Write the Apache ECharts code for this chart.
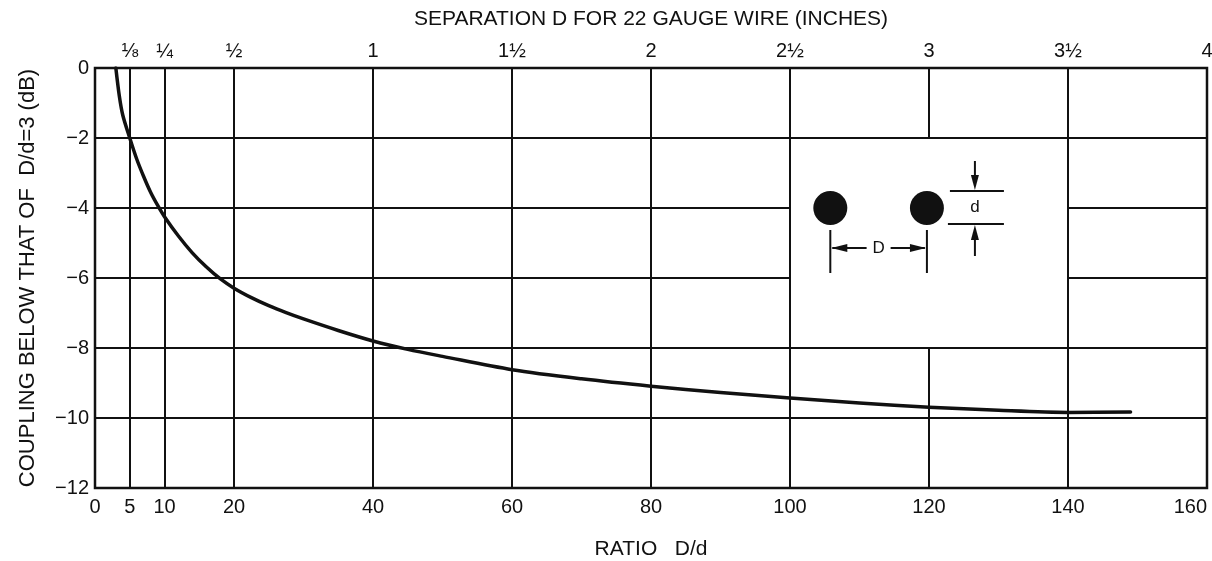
<!DOCTYPE html>
<html>
<head>
<meta charset="utf-8">
<script src="https://cdn.jsdelivr.net/npm/echarts@6/dist/echarts.min.js"></script>
<style>
  html, body { margin: 0; padding: 0; background: #fff; }
  #chart { width: 1212px; height: 561px; }
</style>
</head>
<body>
<div id="chart"></div>
<script>
// Coupling relative to D/d = 3, versus spacing ratio D/d
const ratio = [3, 3.5, 4, 5, 6, 7, 8, 9, 10, 12, 14, 16, 18, 20, 22.5, 25, 27.5, 30, 35, 40, 45, 50, 60, 70, 80, 90, 100, 110, 120, 130, 140, 149];
const couplingDb = [0, -0.8, -1.35, -2.0, -2.6, -3.1, -3.55, -3.92, -4.25, -4.8, -5.28, -5.68, -6.02, -6.29, -6.56, -6.79, -6.99, -7.17, -7.5, -7.8, -8.04, -8.24, -8.62, -8.88, -9.09, -9.27, -9.43, -9.57, -9.69, -9.78, -9.84, -9.83];

// Bottom axis (ratio) tick positions
const ratioTicks = [0, 5, 10, 20, 40, 60, 80, 100, 120, 140, 160];
// Top axis: separation in inches for 22 gauge wire at the same positions
const inchTickValues = [5, 10, 20, 40, 60, 80, 100, 120, 140, 160];
const inchTickLabels = ['⅛', '¼', '½', '1', '1½', '2', '2½', '3', '3½', '4'];
// Horizontal grid levels (dB)
const dbTicks = [-2, -4, -6, -8, -10];

const FONT = '"Liberation Sans", Arial, Helvetica, sans-serif';
const INK = '#111';

// Inset frame: grid lines inside this box are left out to make room for the sketch
const inset = { x0: 100, x1: 140, y0: -8, y1: -2 };

function gridSegments() {
  const segs = [];
  ratioTicks.filter(v => v > 0 && v < 160).forEach(v => {
    if (v > inset.x0 && v < inset.x1) {
      segs.push([{ coord: [v, 0] }, { coord: [v, inset.y1] }]);
      segs.push([{ coord: [v, inset.y0] }, { coord: [v, -12] }]);
    } else {
      segs.push([{ coord: [v, 0] }, { coord: [v, -12] }]);
    }
  });
  dbTicks.forEach(v => {
    if (v > inset.y0 && v < inset.y1) {
      segs.push([{ coord: [0, v] }, { coord: [inset.x0, v] }]);
      segs.push([{ coord: [inset.x1, v] }, { coord: [160, v] }]);
    } else {
      segs.push([{ coord: [0, v] }, { coord: [160, v] }]);
    }
  });
  return segs;
}

const chart = echarts.init(document.getElementById('chart'), null, { renderer: 'canvas' });

const labelStyle = { color: INK, fontFamily: FONT, fontSize: 20 };
const nameStyle = { color: INK, fontFamily: FONT, fontSize: 21 };

chart.setOption({
  animation: false,
  backgroundColor: '#fff',
  grid: {
    left: 95, right: 5, top: 68, bottom: 73,
    outerBoundsMode: 'none', containLabel: false,
    show: true, borderColor: INK, borderWidth: 2.5, backgroundColor: 'transparent'
  },
  xAxis: [
    {
      type: 'value', position: 'bottom', min: 0, max: 160,
      name: 'RATIO   D/d', nameLocation: 'middle', nameGap: 51,
      nameTextStyle: nameStyle,
      axisLine: { show: false },
      axisTick: { show: false },
      splitLine: { show: false },
      axisLabel: Object.assign({ customValues: ratioTicks, margin: 9, alignMaxLabel: 'right' }, labelStyle)
    },
    {
      type: 'value', position: 'top', min: 0, max: 160,
      name: 'SEPARATION D FOR 22 GAUGE WIRE (INCHES)', nameLocation: 'middle', nameGap: 38,
      nameTextStyle: nameStyle,
      axisLine: { show: false },
      axisTick: { show: false },
      splitLine: { show: false },
      axisLabel: Object.assign({
        customValues: inchTickValues, margin: 7,
        formatter: v => inchTickLabels[inchTickValues.indexOf(v)] || ''
      }, labelStyle)
    }
  ],
  yAxis: {
    type: 'value', min: -12, max: 0, interval: 2,
    name: 'COUPLING BELOW THAT OF  D/d=3 (dB)', nameLocation: 'middle', nameGap: 56, nameRotate: 90,
    nameTextStyle: { color: INK, fontFamily: FONT, fontSize: 22 },
    axisLine: { show: false },
    axisTick: { show: false },
    splitLine: { show: false },
    axisLabel: Object.assign({
      margin: 6,
      formatter: v => (v < 0 ? '\u2212' + Math.abs(v) : String(v))
    }, labelStyle)
  },
  series: [
    {
      type: 'line',
      name: 'grid',
      data: [],
      silent: true,
      markLine: {
        silent: true,
        symbol: ['none', 'none'],
        label: { show: false },
        lineStyle: { color: INK, width: 2, type: 'solid' },
        data: gridSegments()
      }
    },
    {
      type: 'line',
      name: 'coupling',
      data: ratio.map((r, i) => [r, couplingDb[i]]),
      smooth: 0.3,
      showSymbol: false,
      lineStyle: { color: INK, width: 3.5, cap: 'round', join: 'round' },
      z: 5
    }
  ]
});

// Sketch of two wires of diameter d at spacing D, placed inside the inset frame
function drawSketch() {
  const p = (x, y) => chart.convertToPixel({ gridIndex: 0 }, [x, y]);
  const [lx, cy] = p(105.8, -4.0);
  const [rx] = p(119.7, -4.0);
  const r = 17;
  const els = [];
  const line = (x1, y1, x2, y2, w) => els.push({
    type: 'line', shape: { x1, y1, x2, y2 }, style: { stroke: INK, lineWidth: w || 2 }, z: 10
  });
  const tri = (pts) => els.push({ type: 'polygon', shape: { points: pts }, style: { fill: INK }, z: 10 });

  els.push({ type: 'circle', shape: { cx: lx, cy: cy, r }, style: { fill: INK }, z: 10 });
  els.push({ type: 'circle', shape: { cx: rx, cy: cy, r }, style: { fill: INK }, z: 10 });

  // D dimension
  const extTop = cy + 22, extBot = cy + 65, dimY = cy + 40;
  line(lx, extTop, lx, extBot);
  line(rx, extTop, rx, extBot);
  const mid = (lx + rx) / 2;
  line(lx + 2, dimY, mid - 12, dimY);
  line(mid + 12, dimY, rx - 2, dimY);
  tri([[lx + 1, dimY], [lx + 17, dimY - 4], [lx + 17, dimY + 4]]);
  tri([[rx - 1, dimY], [rx - 17, dimY - 4], [rx - 17, dimY + 4]]);
  els.push({
    type: 'text', x: mid, y: dimY, z: 10,
    style: { text: 'D', fill: INK, font: '17px ' + FONT, align: 'center', verticalAlign: 'middle' }
  });

  // d dimension
  const dx0 = rx + 23, dx1 = rx + 77, ax = rx + 48;
  const topY = cy - r, botY = cy + r - 1;
  line(dx0, topY, dx1, topY);
  line(dx0 - 2, botY, dx1, botY);
  line(ax, topY - 30, ax, topY - 10);
  tri([[ax, topY - 1], [ax - 4, topY - 16], [ax + 4, topY - 16]]);
  line(ax, botY + 10, ax, botY + 32);
  tri([[ax, botY + 1], [ax - 4, botY + 16], [ax + 4, botY + 16]]);
  els.push({
    type: 'text', x: ax, y: (topY + botY) / 2, z: 10,
    style: { text: 'd', fill: INK, font: '17px ' + FONT, align: 'center', verticalAlign: 'middle' }
  });

  chart.setOption({ graphic: els });
}
drawSketch();
</script>
</body>
</html>
